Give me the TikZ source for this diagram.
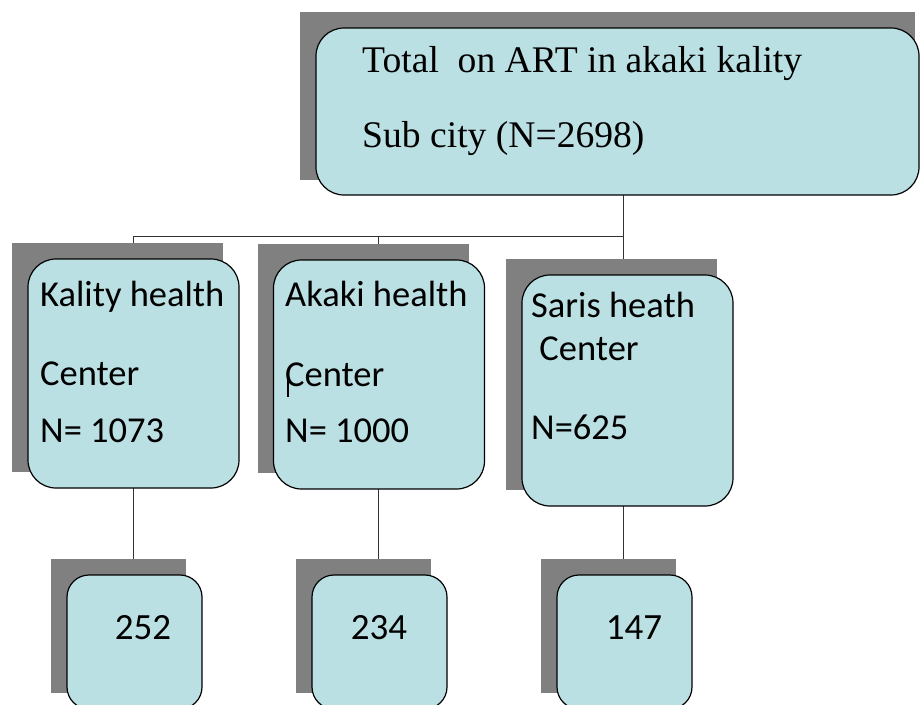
\documentclass[tikz,border=0pt]{standalone}
\usepackage{fontspec}
\setmainfont{Liberation Serif}
\newfontfamily\calib{Carlito}
\pgfdeclarelayer{linelayer}
\pgfdeclarelayer{shadowlayer}
\pgfsetlayers{linelayer,shadowlayer,main}
\definecolor{boxfill}{HTML}{BBE0E3}
\definecolor{shadowgray}{HTML}{808080}
\begin{document}
\begin{tikzpicture}[x=1pt,y=-1pt,
  orgbox/.style={draw=black, line width=1.2pt, fill=boxfill, rounded corners=28pt, inner sep=0pt, outer sep=0pt},
  smallbox/.style={orgbox, rounded corners=22pt, minimum width=135pt, minimum height=134pt},
  midbox/.style={orgbox, minimum width=211pt, minimum height=229pt},
  conn/.style={draw=black!80, line width=1pt},
  shade/.style={fill=shadowgray},
  toptext/.style={anchor=base west, inner sep=0pt, font=\fontsize{37.6}{44}\selectfont},
  cbtext/.style={anchor=base west, inner sep=0pt, font=\calib\fontsize{36.5}{42}\selectfont},
  numtext/.style={anchor=base, inner sep=0pt, font=\calib\fontsize{37}{42}\selectfont}]
\useasboundingbox (0,0) rectangle (920,704);

% boxes
\node[orgbox, minimum width=603pt, minimum height=167pt] (top) at (617.5,111.5) {};
\node[midbox] (kality) at (133.5,373.5) {};
\node[midbox] (akaki) at (379,374.5) {};
\node[midbox, minimum height=231pt] (saris) at (627.5,390.5) {};
\node[smallbox] (b1) at (134.5,642) {};
\node[smallbox] (b2) at (379.5,642) {};
\node[smallbox] (b3) at (624.5,642) {};

% shadows
\begin{pgfonlayer}{shadowlayer}
  \fill[shade] ([shift={(-16,-16)}]top.north west) rectangle ([shift={(-4,-15)}]top.south east);
  \foreach \n in {kality,akaki,saris,b1,b2,b3}
    \fill[shade] ([shift={(-16,-16)}]\n.north west) rectangle ([shift={(-16,-16)}]\n.south east);
\end{pgfonlayer}

% connectors
\coordinate (bus) at (623,236);
\begin{pgfonlayer}{linelayer}
  \draw[conn] (bus |- top.south) -- (bus |- saris.north);
  \draw[conn] ([xshift=-0.5pt]kality.north) |- (bus);
  \draw[conn] ([xshift=-1pt]akaki.north) -- ([xshift=-1pt]akaki.north |- bus);
  \draw[conn] ([xshift=-0.5pt]kality.south) -- ([xshift=-0.5pt]kality.south |- b1.north);
  \draw[conn] ([xshift=-1pt]akaki.south) -- ([xshift=-1pt]akaki.south |- b2.north);
  \draw[conn] (bus |- saris.south) -- (bus |- b3.north);
\end{pgfonlayer}

% texts
\node[toptext] (t1) at (362,72) {Total\ \ on ART in akaki kality};
\node[toptext] (t2) at (362,147) {Sub city (N=2698)};

\node[cbtext] (k1) at (40,306) {Kality health};
\node[cbtext] (k2) at (40,385) {Center};
\node[cbtext] (k3) at (40,442) {N= 1073};

\node[cbtext] (a1) at (285,306) {Akaki health};
\node[cbtext] (a2) at (285,386) {\rlap{\kern2pt\rule[-11pt]{2pt}{21pt}}Center};
\node[cbtext] (a3) at (285,442) {N= 1000};

\node[cbtext] (s1) at (531,317) {Saris heath};
\node[cbtext] (s2) at (531,360) {\ Center};
\node[cbtext] (s3) at (531,439) {N=625};

\node[numtext] (n1) at (143,639) {252};
\node[numtext] (n2) at (379,639) {234};
\node[numtext] (n3) at (634,639) {147};
\end{tikzpicture}
\end{document}
